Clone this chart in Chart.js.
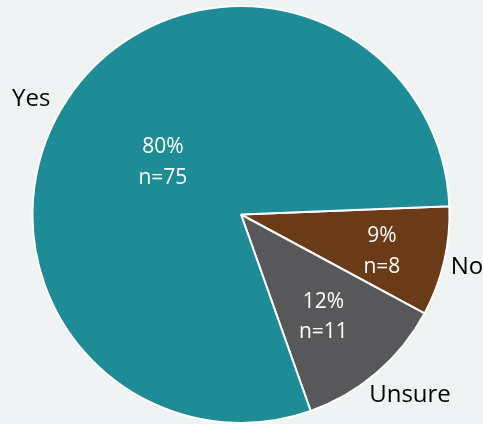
<!DOCTYPE html>
<html>
<head>
<meta charset="utf-8">
<script src="https://cdn.jsdelivr.net/npm/chart.js@4/dist/chart.umd.min.js"></script>
<style>
  html, body { margin: 0; padding: 0; background: #EFF3F4; }
  #wrap { width: 483px; height: 424px; }
</style>
</head>
<body>
<div id="wrap"><canvas id="c" width="483" height="424"></canvas></div>
<script>
// ---- data ----
const categories = ["No", "Unsure", "Yes"];
const counts = [8, 11, 75];
const percentLabels = ["9%", "12%", "80%"];
const countLabels = ["n=8", "n=11", "n=75"];
const sliceColors = ["#6B3A17", "#58585A", "#1E8C96"];

// ---- label layout (angle offset in degrees from slice middle, radius fraction) ----
const innerLayout = [ {da: 1.1, k: 0.697}, {da: 1.4, k: 0.625}, {da: 0.3, k: 0.454} ];
const outerLayout = [ {da: -0.4, k: 1.111}, {da: -2.7, k: 1.182}, {da: -5.0, k: 1.151} ];

const FONT = '"Open Sans", "Liberation Sans", sans-serif';

const labelPlugin = {
  id: 'sliceLabels',
  afterDatasetsDraw(chart) {
    const ctx = chart.ctx;
    const meta = chart.getDatasetMeta(0);
    ctx.save();
    meta.data.forEach((arc, i) => {
      const p = arc.getProps(['x', 'y', 'startAngle', 'endAngle', 'outerRadius'], true);
      const mid = (p.startAngle + p.endAngle) / 2;
      // inside label
      const il = innerLayout[i];
      const a1 = mid + il.da * Math.PI / 180;
      const cx = p.x + Math.cos(a1) * p.outerRadius * il.k;
      const cy = p.y + Math.sin(a1) * p.outerRadius * il.k;
      const fs = 21;
      ctx.font = fs + 'px ' + FONT;
      ctx.fillStyle = '#FFFFFF';
      ctx.textAlign = 'center';
      ctx.textBaseline = 'alphabetic';
      const capHalf = 0.357 * fs;
      const gap = 15.25;
      ctx.fillText(percentLabels[i], cx, cy - gap + capHalf);
      ctx.fillText(countLabels[i], cx, cy + gap + capHalf);
      // outside label
      const ol = outerLayout[i];
      const a2 = mid + ol.da * Math.PI / 180;
      const ox = p.x + Math.cos(a2) * p.outerRadius * ol.k;
      const oy = p.y + Math.sin(a2) * p.outerRadius * ol.k;
      const fs2 = 24;
      ctx.font = fs2 + 'px ' + FONT;
      ctx.fillStyle = '#000000';
      ctx.fillText(categories[i], ox, oy + 0.357 * fs2);
    });
    ctx.restore();
  }
};

new Chart(document.getElementById('c'), {
  type: 'pie',
  data: {
    labels: categories,
    datasets: [{
      data: counts,
      backgroundColor: sliceColors,
      borderColor: '#FFFFFF',
      borderWidth: 2
    }]
  },
  options: {
    responsive: false,
    devicePixelRatio: 1,
    animation: false,
    rotation: 87.7,
    radius: 208.5,
    layout: { padding: { top: 6, bottom: 1, left: 0, right: 1 } },
    plugins: {
      legend: { display: false },
      tooltip: { enabled: false }
    }
  },
  plugins: [labelPlugin]
});
</script>
</body>
</html>
